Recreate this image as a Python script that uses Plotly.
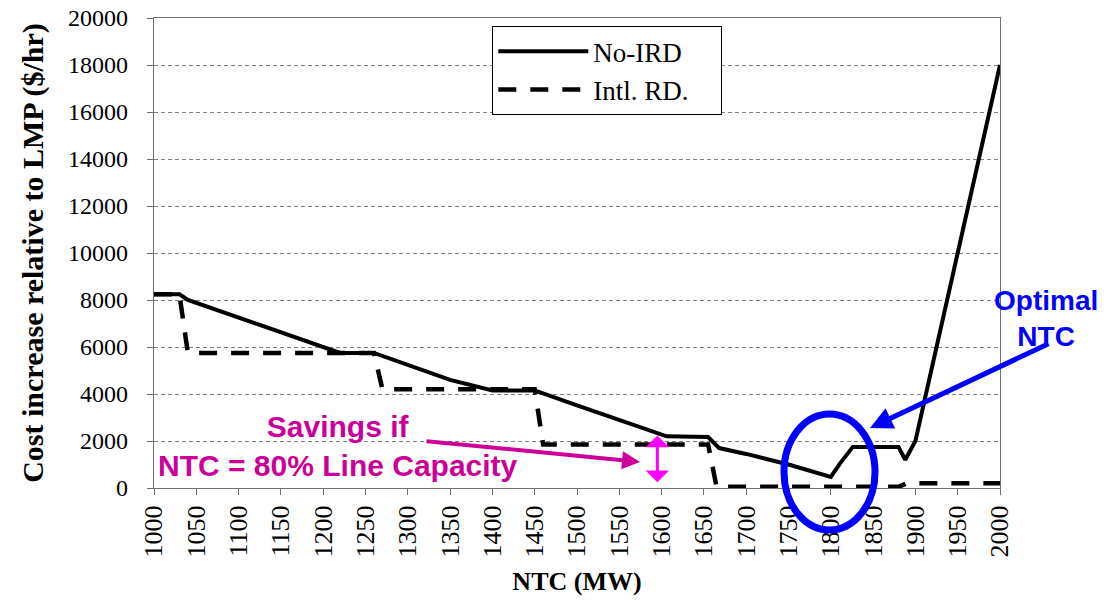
import plotly.graph_objects as go

# ---- data ----
ntc_noird = [1000, 1030, 1040, 1100, 1150, 1220, 1260, 1300, 1350, 1400, 1450, 1500, 1550,
             1606, 1655, 1668, 1700, 1750, 1800, 1811, 1826, 1880, 1888, 1900, 1950, 2000]
cost_noird = [8250, 8250, 8000, 7250, 6650, 5750, 5750, 5250, 4600, 4150, 4150, 3520, 2880,
              2200, 2170, 1700, 1450, 1000, 470, 1050, 1750, 1750, 1200, 2000, 10000, 18000]

ntc_ird = [1000, 1030, 1040, 1260, 1270, 1450, 1460, 1655, 1665, 1880, 1890, 2000]
cost_ird = [8250, 8250, 5750, 5750, 4200, 4200, 1850, 1850, 50, 50, 200, 200]

x_ticks = list(range(1000, 2001, 50))
y_ticks = list(range(0, 20001, 2000))

series_names = ["No-IRD", "Intl. RD."]
x_title = "NTC (MW)"
y_title = "Cost increase relative to LMP ($/hr)"

# ---- layout geometry (page pixels; the page body has an 8px margin) ----
OFF = 8
W, H = 1108 - OFF, 607 - 2 * OFF
PL, PR, PT, PB = 154, 1000, 18, 488          # plot area on the page
L, T = PL - OFF, PT - OFF
R, B = W - (PR - OFF), H - (PB - OFF)
PW, PH = PR - PL, PB - PT


def px_x(p):
    return (p - PL) / PW


def px_y(p):
    return (PB - p) / PH


serif = "Liberation Serif, Times New Roman, serif"
sans = "Liberation Sans, Arial, sans-serif"
magenta = "#CC0099"

fig = go.Figure()
fig.add_trace(go.Scatter(x=ntc_noird, y=cost_noird, mode="lines", name=series_names[0],
                         line=dict(color="black", width=4)))
fig.add_trace(go.Scatter(x=ntc_ird, y=cost_ird, mode="lines",
                         name=series_names[1] + "&nbsp;&nbsp;&nbsp;&nbsp;",
                         line=dict(color="black", width=4.5, dash="18px,14px")))

axis_common = dict(showline=True, linecolor="#707070", linewidth=1.3, mirror=True,
                   ticks="outside", ticklen=6, tickcolor="#707070", zeroline=False,
                   automargin=False, ticklabeloverflow="allow")

fig.update_xaxes(range=[1000, 2000], tickvals=x_ticks, ticktext=[str(v) for v in x_ticks],
                 tickangle=-90, tickfont=dict(family=serif, size=26, color="black"),
                 showgrid=False, ticklabelstandoff=0,
                 title=dict(text="<b>" + x_title + "</b>", font=dict(family=serif, size=26, color="black")),
                 **axis_common)
fig.update_yaxes(range=[0, 20000], tickvals=y_ticks, ticktext=[str(v) for v in y_ticks],
                 tickfont=dict(family=serif, size=24, color="black"),
                 showgrid=True, gridcolor="#808080", gridwidth=1, griddash="4px,3px",
                 ticklabelstandoff=14,
                 title=dict(text="<b>" + y_title + "</b>", font=dict(family=serif, size=30, color="black")),
                 **axis_common)

fig.update_layout(
    width=W, height=H,
    margin=dict(l=L, r=R, t=T, b=B),
    plot_bgcolor="white", paper_bgcolor="white",
    showlegend=True,
    legend=dict(x=px_x(492), y=px_y(26), xanchor="left", yanchor="top",
                bgcolor="white", bordercolor="black", borderwidth=1.3,
                font=dict(family=serif, size=27, color="black"),
                itemwidth=90),
)

# Ellipse around optimum
fig.add_shape(type="circle", xref="paper", yref="paper",
              x0=px_x(784), x1=px_x(875), y0=px_y(530), y1=px_y(414),
              line=dict(color="#0000FF", width=7), layer="above")

# Savings text
fig.add_annotation(xref="paper", yref="paper", x=px_x(338), y=px_y(446),
                   text="<b>Savings if<br>NTC = 80% Line Capacity</b>", showarrow=False,
                   font=dict(family=sans, size=30, color=magenta), xanchor="center", yanchor="middle")
# Magenta arrow
fig.add_annotation(x=1574.5, y=1106, xref="x", yref="y", ax=-215, ay=-21, axref="pixel", ayref="pixel",
                   text="", showarrow=True, arrowhead=2, arrowsize=0.9, arrowwidth=4, arrowcolor=magenta)
# Double-headed vertical arrow
fig.add_annotation(x=1595, y=2230, xref="x", yref="y", ax=1595, ay=180, axref="x", ayref="y",
                   text="", showarrow=True, arrowhead=1, startarrowhead=1, arrowside="end+start",
                   arrowsize=1.3, startarrowsize=1.3, arrowwidth=3, arrowcolor="#FF00FF")

# Optimal NTC text and arrow
fig.add_annotation(xref="paper", yref="paper", x=px_x(1046), y=px_y(318),
                   text="<b>Optimal<br>NTC</b>", showarrow=False,
                   font=dict(family=sans, size=28, color="#0000FF"), xanchor="center", yanchor="middle")
fig.add_annotation(xref="paper", yref="paper", x=px_x(870), y=px_y(428), ax=180, ay=-85,
                   text="", showarrow=True, arrowhead=2, arrowsize=0.9, arrowwidth=5, arrowcolor="#0000FF")

fig.write_html("out.html")
